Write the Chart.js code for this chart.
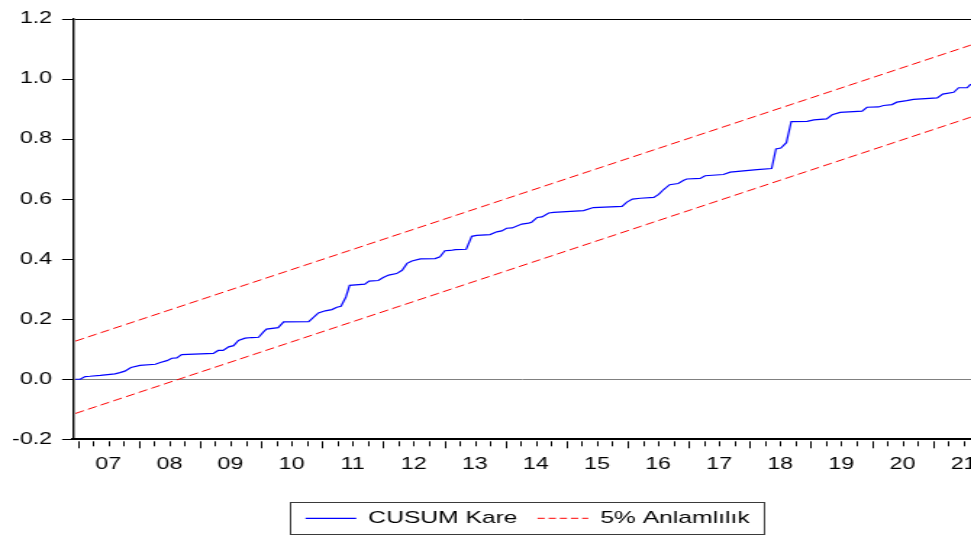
<!DOCTYPE html>
<html>
<head>
<meta charset="utf-8">
<title>CUSUM Kare</title>
<script src="https://cdn.jsdelivr.net/npm/chart.js@4.4.0/dist/chart.umd.min.js"></script>
<style>
  html, body { margin: 0; padding: 0; background: #fff; overflow: hidden; }
  /* grafik yatayda gerilmis: 670 px ciz, 971 px goster */
  #wrap { width: 670px; height: 535px; transform: scaleX(1.4493); transform-origin: 0 0; }
</style>
</head>
<body>
<div id="wrap"><canvas id="cusum-chart" width="670" height="535"></canvas></div>
<script>
// Yil etiketleri (yil ortasina yazilir)
const years = [2007, 2008, 2009, 2010, 2011, 2012, 2013, 2014, 2015, 2016, 2017, 2018, 2019, 2020, 2021];
const yearLabels = ['07', '08', '09', '10', '11', '12', '13', '14', '15', '16', '17', '18', '19', '20', '21'];
const yTicks = [-0.2, 0.0, 0.2, 0.4, 0.6, 0.8, 1.0, 1.2];

// CUSUM kare serisi (tarih = ondalik yil)
const cusumDates = [
  2006.96, 2007.04, 2007.12, 2007.20, 2007.37, 2007.61, 2007.69, 2007.77, 2007.87, 2008.02,
  2008.27, 2008.35, 2008.46, 2008.54, 2008.62, 2008.70, 2009.22, 2009.30, 2009.38, 2009.47,
  2009.55, 2009.63, 2009.74, 2009.85, 2009.96, 2010.04, 2010.09, 2010.28, 2010.37, 2010.78,
  2010.94, 2011.05, 2011.16, 2011.24, 2011.31, 2011.39, 2011.45, 2011.70, 2011.77, 2011.92,
  2012.00, 2012.09, 2012.22, 2012.31, 2012.39, 2012.47, 2012.61, 2012.85, 2012.93, 2013.01,
  2013.10, 2013.18, 2013.36, 2013.45, 2013.53, 2013.75, 2013.86, 2013.94, 2014.02, 2014.11,
  2014.27, 2014.38, 2014.43, 2014.52, 2014.60, 2014.71, 2014.79, 2015.28, 2015.44, 2015.91,
  2015.99, 2016.08, 2016.21, 2016.43, 2016.51, 2016.59, 2016.69, 2016.83, 2016.92, 2016.97,
  2017.19, 2017.27, 2017.57, 2017.68, 2018.12, 2018.36, 2018.43, 2018.51, 2018.60, 2018.68,
  2018.94, 2019.05, 2019.26, 2019.35, 2019.48, 2019.84, 2019.92, 2020.11, 2020.19, 2020.33,
  2020.41, 2020.57, 2020.68, 2021.07, 2021.16, 2021.34, 2021.42, 2021.56, 2021.62
];
const cusumValues = [
  0.000, 0.000, 0.009, 0.010, 0.013, 0.018, 0.022, 0.027, 0.039, 0.046,
  0.050, 0.056, 0.062, 0.070, 0.071, 0.082, 0.086, 0.096, 0.096, 0.108,
  0.112, 0.129, 0.137, 0.139, 0.140, 0.158, 0.167, 0.172, 0.191, 0.192,
  0.221, 0.228, 0.232, 0.240, 0.243, 0.274, 0.313, 0.317, 0.327, 0.329,
  0.339, 0.347, 0.352, 0.363, 0.386, 0.394, 0.401, 0.402, 0.408, 0.428,
  0.429, 0.432, 0.433, 0.476, 0.479, 0.482, 0.491, 0.494, 0.503, 0.504,
  0.517, 0.520, 0.523, 0.539, 0.541, 0.554, 0.556, 0.562, 0.572, 0.576,
  0.590, 0.600, 0.603, 0.606, 0.616, 0.632, 0.648, 0.652, 0.663, 0.667,
  0.669, 0.678, 0.682, 0.690, 0.698, 0.702, 0.767, 0.770, 0.788, 0.858,
  0.859, 0.864, 0.867, 0.881, 0.889, 0.893, 0.906, 0.907, 0.912, 0.915,
  0.923, 0.928, 0.932, 0.937, 0.950, 0.956, 0.971, 0.971, 0.983
];

// %5 anlamlilik sinirlari (duz cizgiler: baslangic ve bitis)
const boundDates = [2006.96, 2021.62];
const upperBound = [0.127, 1.113];
const lowerBound = [-0.114, 0.873];

const toPoints = (xs, ys) => xs.map((x, i) => ({ x: x, y: ys[i] }));
const FONT = '"Liberation Sans", Arial, sans-serif';

// Ceyrek tik isaretleri (yil basinda uzun)
const quarterTicks = {
    id: 'quarterTicks',
    afterDraw(chart) {
        const xs = chart.scales.x;
        const ctx = chart.ctx;
        const y0 = chart.chartArea.bottom + 2;
        ctx.save();
        ctx.strokeStyle = '#000';
        ctx.lineWidth = 1;
        years.forEach(yr => {
            for (let q = 0; q < 4; q++) {
                const v = yr + q / 4;
                if (v < xs.min || v > xs.max) continue;
                const px = Math.round(xs.getPixelForValue(v)) + 0.5;
                ctx.beginPath();
                ctx.moveTo(px, y0);
                ctx.lineTo(px, y0 + (q === 0 ? 7 : 5));
                ctx.stroke();
            }
        });
        ctx.restore();
    }
};

// Cerceveli alt lejant
const legendBox = {
    id: 'legendBox',
    afterDraw(chart) {
        const ctx = chart.ctx;
        const area = chart.chartArea;
        const items = chart.data.datasets.filter(d => d.label);
        const sample = 35, gap = 8.3, sep = 13.8, pad = 10.3;
        ctx.save();
        ctx.font = '17px ' + FONT;
        let total = pad * 2;
        items.forEach((d, i) => {
            total += sample + gap + ctx.measureText(d.label).width + (i ? sep : 0);
        });
        let x = Math.round((area.left + area.right) / 2 + 3 - total / 2) + 0.5;
        const top = chart.height - 32.5;
        const cy = chart.height - 16.7;
        ctx.strokeStyle = '#3a3a3a';
        ctx.lineWidth = 1;
        ctx.strokeRect(x, top, total, 32);
        x += pad;
        items.forEach((d, i) => {
            if (i) x += sep;
            ctx.strokeStyle = d.borderColor;
            ctx.lineWidth = d.borderWidth;
            ctx.setLineDash(d.borderDash ? [5, 2.7] : []);
            ctx.beginPath();
            ctx.moveTo(x, cy);
            ctx.lineTo(x + sample, cy);
            ctx.stroke();
            ctx.setLineDash([]);
            x += sample + gap;
            ctx.fillStyle = '#000';
            ctx.textBaseline = 'middle';
            ctx.fillText(d.label, x, cy);
            x += ctx.measureText(d.label).width;
        });
        ctx.restore();
    }
};

const ctx = document.getElementById('cusum-chart').getContext('2d');
const cusumChart = new Chart(ctx, {
    type: 'line',
    data: {
        datasets: [
            {
                label: 'CUSUM Kare',
                data: toPoints(cusumDates, cusumValues),
                borderColor: '#0000ff',
                backgroundColor: 'transparent',
                borderWidth: 1.2,
                pointRadius: 0,
                tension: 0
            },
            {
                label: '5% Anlamlılık',
                data: toPoints(boundDates, upperBound),
                borderColor: '#ff0000',
                backgroundColor: 'transparent',
                borderWidth: 1,
                borderDash: [6.5, 3.2],
                pointRadius: 0
            },
            {
                label: '',
                data: toPoints(boundDates, lowerBound),
                borderColor: '#ff0000',
                backgroundColor: 'transparent',
                borderWidth: 1,
                borderDash: [6.5, 3.2],
                pointRadius: 0
            }
        ]
    },
    options: {
        responsive: false,
        animation: false,
        devicePixelRatio: 1,
        layout: { padding: { top: 19, left: 0, right: 0, bottom: 65.7 } },
        plugins: {
            legend: { display: false },
            tooltip: { enabled: false }
        },
        scales: {
            x: {
                type: 'linear',
                min: 2006.918,
                max: 2021.624,
                afterBuildTicks: function (scale) {
                    scale.ticks = years.map(y => ({ value: y + 0.5 }));
                },
                afterFit: function (scale) {
                    scale.height = 30;
                    scale.paddingLeft = 0;
                    scale.paddingRight = 0;
                },
                grid: { display: false, drawTicks: false, tickLength: 0 },
                border: { display: true, color: '#000', width: 2 },
                ticks: {
                    autoSkip: false,
                    maxRotation: 0,
                    padding: 16,
                    color: '#000',
                    font: { family: FONT, size: 16 },
                    callback: function (value, index) {
                        return yearLabels[index];
                    }
                }
            },
            y: {
                min: -0.2,
                max: 1.2,
                afterBuildTicks: function (scale) {
                    scale.ticks = yTicks.map(v => ({ value: v }));
                },
                afterFit: function (scale) {
                    scale.width = 50.2;
                },
                grid: {
                    color: function (c) {
                        const v = c.tick ? c.tick.value : null;
                        if (v === null) return 'transparent';
                        if (Math.abs(v) < 1e-6) return '#808080';
                        if (Math.abs(v - 1.2) < 1e-6) return '#000';
                        return 'transparent';
                    },
                    lineWidth: 1,
                    tickColor: '#000',
                    tickLength: 7.4
                },
                border: { display: true, color: '#000', width: 1.4 },
                ticks: {
                    padding: 6.9,
                    color: '#000',
                    font: { family: FONT, size: 16 },
                    callback: function (value) {
                        return value.toFixed(1);
                    }
                }
            }
        }
    },
    plugins: [quarterTicks, legendBox]
});
</script>
</body>
</html>
